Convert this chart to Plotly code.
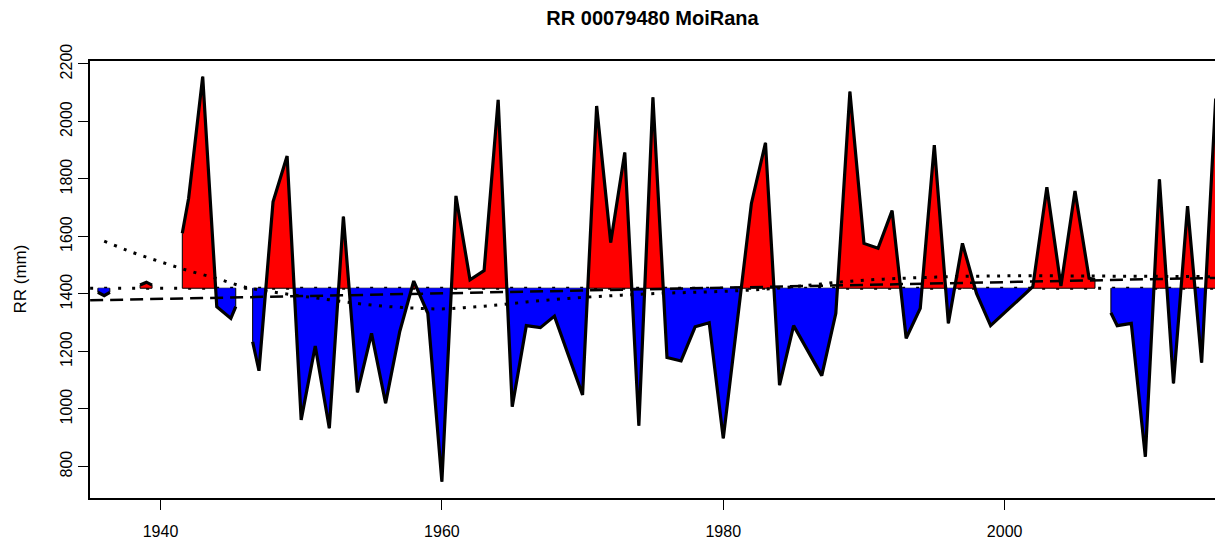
import plotly.graph_objects as go

# ---------------- data ----------------
MEAN_RR = 1420  # long-term mean, mm

# runs of annual precipitation; the fractional end years are where the
# original polygons start/stop next to missing years
run1_years = [1935.55, 1936, 1936.4]
run1_rr = [1406, 1394, 1406]

run2_years = [1938.55, 1939, 1939.4]
run2_rr = [1431, 1441, 1431]

run3_years = [1941.55, 1942, 1943, 1944, 1945, 1945.35]
run3_rr = [1611, 1733, 2156, 1356, 1315, 1356]

run4_years = [1946.55,
              1947, 1948, 1949, 1950, 1951, 1952, 1953, 1954, 1955, 1956,
              1957, 1958, 1959, 1960, 1961, 1962, 1963, 1964, 1965, 1966,
              1967, 1968, 1969, 1970, 1971, 1972, 1973, 1974, 1975, 1976,
              1977, 1978, 1979, 1980, 1981, 1982, 1983, 1984, 1985, 1986,
              1987, 1988, 1989, 1990, 1991, 1992, 1993, 1994, 1995, 1996,
              1997, 1998, 1999, 2000, 2001, 2002, 2003, 2004, 2005, 2006,
              2006.42]
run4_rr = [1234,
           1133, 1721, 1880, 962, 1219, 933, 1669, 1058, 1263, 1020,
           1268, 1445, 1333, 747, 1741, 1449, 1481, 2075, 1008, 1290,
           1283, 1323, 1183, 1049, 2054, 1579, 1892, 942, 2084, 1179,
           1167, 1286, 1300, 898, 1306, 1715, 1926, 1083, 1290, 1203,
           1116, 1333, 2104, 1576, 1559, 1690, 1246, 1350, 1918, 1298,
           1576, 1402, 1290, 1335, 1380, 1425, 1771, 1428, 1758, 1455,
           1450]

run5_years = [2007.55, 2008, 2009, 2010, 2011, 2012, 2013, 2014, 2015]
run5_rr = [1335, 1290, 1298, 834, 1799, 1089, 1706, 1161, 2080]

runs = [(run1_years, run1_rr), (run2_years, run2_rr), (run3_years, run3_rr),
        (run4_years, run4_rr), (run5_years, run5_rr)]

# linear trend (dashed)
trend_years = [1935, 2015]
trend_rr = [1378, 1456]

# smooth trend (dotted)
smooth_years = [1936, 1938, 1940, 1942, 1944, 1946, 1948, 1950, 1952, 1954,
                1956, 1958, 1960, 1962, 1964, 1966, 1968, 1970, 1972, 1974,
                1976, 1978, 1980, 1982, 1984, 1986, 1988, 1990, 1992, 1994,
                1996, 1998, 2000, 2004, 2008, 2012, 2015]
smooth_rr = [1584, 1545, 1512, 1481, 1454, 1424, 1407, 1393, 1380, 1367,
             1357, 1351, 1348, 1354, 1362, 1372, 1381, 1388, 1394, 1399,
             1403, 1406, 1409, 1414, 1421, 1430, 1440, 1448, 1453, 1457,
             1460, 1462, 1463, 1463, 1462, 1461, 1460]

mean_years = [1935, 2015]

x_ticks = [1940, 1960, 1980, 2000]
y_ticks = [800, 1000, 1200, 1400, 1600, 1800, 2000, 2200]

TITLE = "RR 00079480 MoiRana"
YLABEL = "RR (mm)"
FONT = "Liberation Sans, Arial, sans-serif"

FIG_W, FIG_H = 1215, 540


def split_polygons(xs, ys, base):
    px, py = [xs[0]], [ys[0]]
    for i in range(1, len(xs)):
        y0, y1 = ys[i - 1], ys[i]
        if (y0 - base) * (y1 - base) < 0:
            t = (base - y0) / (y1 - y0)
            px.append(xs[i - 1] + t * (xs[i] - xs[i - 1]))
            py.append(base)
        px.append(xs[i])
        py.append(ys[i])
    poly_x = [px[0]] + px + [px[-1]]
    up = [base] + [max(v, base) for v in py] + [base]
    dn = [base] + [min(v, base) for v in py] + [base]
    return poly_x, up, dn


fig = go.Figure()

# mean line (dotted) under everything
fig.add_trace(go.Scatter(x=mean_years, y=[MEAN_RR] * len(mean_years), mode="lines",
                         line=dict(color="black", width=3, dash="3px,11px"),
                         hoverinfo="skip", showlegend=False))

for xs, ys in runs:
    poly_x, up, dn = split_polygons(xs, ys, MEAN_RR)
    fig.add_trace(go.Scatter(x=poly_x, y=up, mode="lines", fill="toself",
                             fillcolor="#FF0000", line=dict(color="black", width=1),
                             hoverinfo="skip", showlegend=False))
    fig.add_trace(go.Scatter(x=poly_x, y=dn, mode="lines", fill="toself",
                             fillcolor="#0000FF", line=dict(color="black", width=1),
                             hoverinfo="skip", showlegend=False))

for xs, ys in runs:
    fig.add_trace(go.Scatter(x=xs, y=ys, mode="lines",
                             line=dict(color="black", width=3.2),
                             showlegend=False))

fig.add_trace(go.Scatter(x=trend_years, y=trend_rr, mode="lines",
                         line=dict(color="black", width=2.5, dash="13px,7px"),
                         hoverinfo="skip", showlegend=False))
fig.add_trace(go.Scatter(x=smooth_years, y=smooth_rr, mode="lines",
                         line=dict(color="black", width=3, dash="3px,7.5px", shape="spline"),
                         hoverinfo="skip", showlegend=False))

axis_common = dict(showline=True, linecolor="black", linewidth=1.5, mirror=True,
                   ticks="outside", ticklen=10, tickwidth=1, tickcolor="black",
                   showgrid=False, zeroline=False,
                   tickfont=dict(family=FONT, size=16, color="black"))

fig.update_xaxes(range=[1934.99, 2014.95], tickvals=x_ticks,
                 ticktext=[str(t) for t in x_ticks], ticklabelstandoff=8,
                 **axis_common)
fig.update_yaxes(range=[690.4, 2210.4], tickvals=y_ticks,
                 ticktext=[str(t) for t in y_ticks], tickangle=-90,
                 **axis_common)

fig.add_annotation(text=YLABEL, xref="paper", yref="paper",
                   x=-70 / 1125, y=0.5, xanchor="center", yanchor="middle",
                   textangle=-90, showarrow=False,
                   font=dict(family=FONT, size=17, color="black"))

fig.update_layout(
    width=FIG_W, height=FIG_H,
    margin=dict(l=90, r=0, t=61, b=42, autoexpand=False),
    paper_bgcolor="white", plot_bgcolor="white",
    title=dict(text="<b>" + TITLE + "</b>", xref="paper", x=0.5, xanchor="center",
               yref="container", y=1 - 18 / FIG_H, yanchor="middle",
               font=dict(family=FONT, size=20, color="black")),
    showlegend=False,
)

# remove the default page margin so the figure fills the 1215x540 window exactly
fig.write_html("out.html",
               config={"displayModeBar": False},
               post_script="document.body.style.margin='0';"
                           "document.documentElement.style.overflow='hidden';")
